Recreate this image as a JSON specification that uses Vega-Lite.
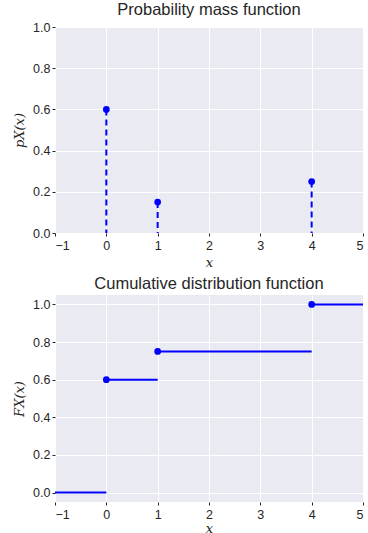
{
  "$schema": "https://vega.github.io/schema/vega-lite/v6.json",
  "padding": {"left": 13, "top": 1, "right": 4, "bottom": 0},
  "spacing": 5,
  "config": {
    "view": {"fill": "#EAEAF2", "stroke": null},
    "font": "Liberation Sans",
    "axis": {
      "domain": false,
      "grid": true,
      "gridColor": "#FFFFFF",
      "gridWidth": 1,
      "tickColor": "#262626",
      "tickSize": 3,
      "labelColor": "#262626",
      "labelFontSize": 12.5,
      "labelFont": "Liberation Sans",
      "titleFont": "DejaVu Serif",
      "titleFontStyle": "italic",
      "titleFontWeight": "normal",
      "titleFontSize": 13,
      "titleColor": "#262626"
    },
    "title": {"fontSize": 16.5, "fontWeight": "normal", "color": "#262626", "font": "Liberation Sans", "offset": 3}
  },
  "vconcat": [
    {
      "title": "Probability mass function",
      "width": 308,
      "height": 206,
      "data": {"values": [
        {"x": 0, "p": 0.6},
        {"x": 1, "p": 0.15},
        {"x": 4, "p": 0.25}
      ]},
      "layer": [
        {
          "mark": {"type": "rule", "color": "#0000FF", "strokeWidth": 2, "strokeDash": [6, 4]},
          "encoding": {
            "x": {"field": "x", "type": "quantitative", "scale": {"domain": [-1, 5], "nice": false}, "axis": {"title": "x", "values": [-1, 0, 1, 2, 3, 4, 5], "labelPadding": 3, "titlePadding": 5}},
            "y": {"field": "p", "type": "quantitative", "scale": {"domain": [0, 1], "nice": false}, "axis": {"title": "pX(x)", "values": [0, 0.2, 0.4, 0.6, 0.8, 1.0], "format": ".1f", "titlePadding": 6}},
            "y2": {"datum": 0}
          }
        },
        {
          "mark": {"type": "point", "filled": true, "color": "#0000FF", "size": 45, "opacity": 1},
          "encoding": {
            "x": {"field": "x", "type": "quantitative"},
            "y": {"field": "p", "type": "quantitative"}
          }
        }
      ]
    },
    {
      "title": "Cumulative distribution function",
      "width": 308,
      "height": 207,
      "layer": [
        {
          "data": {"values": [
            {"x0": -1, "x1": 0, "F": 0},
            {"x0": 0, "x1": 1, "F": 0.6},
            {"x0": 1, "x1": 4, "F": 0.75},
            {"x0": 4, "x1": 5, "F": 1.0}
          ]},
          "mark": {"type": "rule", "color": "#0000FF", "strokeWidth": 2},
          "encoding": {
            "x": {"field": "x0", "type": "quantitative", "scale": {"domain": [-1, 5], "nice": false}, "axis": {"title": "x", "values": [-1, 0, 1, 2, 3, 4, 5], "labelPadding": 3, "titlePadding": 2}},
            "x2": {"field": "x1"},
            "y": {"field": "F", "type": "quantitative", "scale": {"domain": [-0.05, 1.05], "nice": false, "zero": false}, "axis": {"title": "FX(x)", "values": [0, 0.2, 0.4, 0.6, 0.8, 1.0], "format": ".1f", "titlePadding": 6}}
          }
        },
        {
          "data": {"values": [
            {"x": 0, "F": 0.6},
            {"x": 1, "F": 0.75},
            {"x": 4, "F": 1.0}
          ]},
          "mark": {"type": "point", "filled": true, "color": "#0000FF", "size": 45, "opacity": 1},
          "encoding": {
            "x": {"field": "x", "type": "quantitative"},
            "y": {"field": "F", "type": "quantitative"}
          }
        }
      ]
    }
  ]
}
